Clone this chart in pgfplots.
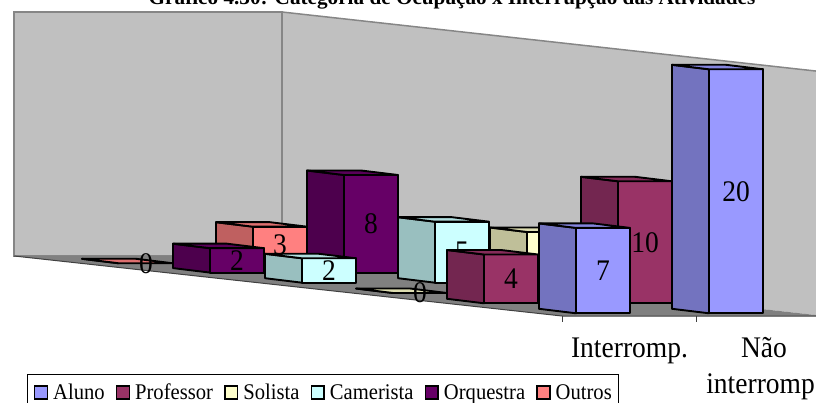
\documentclass[border=0pt]{standalone}
\usepackage{fontspec}
\setmainfont{Liberation Serif}
\newfontfamily\tallserif[FakeStretch=0.92]{Liberation Serif}
\usepackage{pgfplots}
\pgfplotsset{compat=1.18}
\definecolor{wall}{HTML}{C0C0C0}
\definecolor{edge}{HTML}{868686}
\definecolor{floorc}{HTML}{808080}
\definecolor{aF}{HTML}{9999FF}\definecolor{aS}{HTML}{7373BF}\definecolor{aT}{HTML}{8585DE}
\definecolor{pF}{HTML}{993366}\definecolor{pS}{HTML}{732650}\definecolor{pT}{HTML}{852C59}
\definecolor{sF}{HTML}{FFFFCC}\definecolor{sS}{HTML}{BFBF99}\definecolor{sT}{HTML}{DEDEB1}
\definecolor{cF}{HTML}{CCFFFF}\definecolor{cS}{HTML}{99BFBF}\definecolor{cT}{HTML}{B1DEDE}
\definecolor{oF}{HTML}{660066}\definecolor{oS}{HTML}{4D004D}\definecolor{oT}{HTML}{590059}
\definecolor{uF}{HTML}{FF8080}\definecolor{uS}{HTML}{BF6060}\definecolor{uT}{HTML}{DE6F6F}
\newcommand\lab{\tallserif\fontsize{29.9}{32}\selectfont}
\newcommand\leg{\tallserif\fontsize{22.4}{24}\selectfont}
\tikzset{
  barl/.style={draw=black,line width=1.9pt,line join=round},
  lbl/.style={inner sep=0pt,font=\lab,text=black},
}
% #1 left x, #2 baseline y of the front face, #3 value, #4 colour prefix
\newcommand\barthree[4]{%
 \pgfmathsetmacro\xa{#1}\pgfmathsetmacro\xb{#1+37}\pgfmathsetmacro\xc{#1+91}\pgfmathsetmacro\xd{#1+54}%
 \pgfmathsetmacro\yt{#2-12.2*#3}\pgfmathsetmacro\ytb{\yt-4.5}\pgfmathsetmacro\ybb{#2-4.5}%
 \pgfmathsetmacro\lx{#1+64}\pgfmathsetmacro\ly{#2-6.1*#3}%
 \edef\tmp{%
 \noexpand\addplot[forget plot,barl,fill=#4S] coordinates {(\xa,\ytb)(\xb,\yt)(\xb,#2)(\xa,\ybb)} --cycle;
 \noexpand\addplot[forget plot,barl,fill=#4F] coordinates {(\xb,\yt)(\xc,\yt)(\xc,#2)(\xb,#2)} --cycle;
 \noexpand\addplot[forget plot,barl,fill=#4T] coordinates {(\xa,\ytb)(\xd,\ytb)(\xc,\yt)(\xb,\yt)} --cycle;
 \noexpand\node[lbl] at (axis cs:\lx,\ly) {#3};
 }\tmp}
\begin{document}
\begin{tikzpicture}
\path[use as bounding box] (0,0) rectangle (816pt,403pt);
\clip (0,0) rectangle (816pt,403pt);
\begin{axis}[
  at={(0,0)},anchor=south west,
  scale only axis,width=816pt,height=403pt,
  xmin=0,xmax=816,ymin=0,ymax=403,y dir=reverse,
  hide axis,clip=false,
  legend style={at={(axis description cs:0.0331,0.0732)},anchor=north west,draw=black,line width=0.8pt,
    inner xsep=6.5pt,inner ysep=7.8pt,font=\leg,
    nodes={inner xsep=0pt,inner ysep=2pt},
    /tikz/every even column/.append style={column sep=11.2pt},
    /tikz/every odd column/.append style={column sep=5pt}},
  legend columns=-1,
  legend image code/.code={\draw[#1,draw=black,line width=1.5pt] (0.75pt,-6.5pt) rectangle (13.5pt,6.5pt);},
]
% walls and floor
\addplot[fill=wall,draw=edge,line width=1.5pt,forget plot] coordinates {(14,12)(282,12)(282,256)(14,256)} --cycle;
\addplot[fill=wall,draw=none,forget plot] coordinates {(282,12)(820,71.5)(820,315.5)(282,256)} --cycle;
\addplot[draw=edge,line width=1.5pt,forget plot] coordinates {(282,256)(282,12)(820,71.5)};
\addplot[fill=floorc,draw=none,forget plot] coordinates {(14,256)(282,256)(820,315.5)(820,316)(562,316)} --cycle;
\addplot[draw=black!75,line width=1pt,forget plot] coordinates {(14,256)(562,316)(820,316)};
\addplot[draw=black!75,line width=1pt,forget plot] coordinates {(562,316)(562,322)};
\addplot[draw=black!75,line width=1pt,forget plot] coordinates {(696,316)(696,322)};
% back row: Nao interromp.
\barthree{216}{263.3}{3}{u}
\barthree{307}{272.6}{8}{o}
\barthree{398}{282.7}{5}{c}
\barthree{490}{293}{5}{s}
\barthree{581}{303.3}{10}{p}
\barthree{672}{313.3}{20}{a}
% front row: Interromp.
\barthree{82}{263.3}{0}{u}
\barthree{173}{272.6}{2}{o}
\barthree{265}{282.7}{2}{c}
\barthree{356}{293}{0}{s}
\barthree{447}{303.3}{4}{p}
\barthree{539}{313.3}{7}{a}
% category names, title
\node[lbl,anchor=base] at (axis cs:629.5,357.5) {Interromp.};
\node[lbl,anchor=base] at (axis cs:764,357.5) {Não};
\node[lbl,anchor=base] at (axis cs:764,393) {interromp.};
\node[inner sep=0pt,anchor=base,font=\fontsize{21.2}{23}\selectfont\bfseries] at (axis cs:452,4.5) {Gráfico 4.30: Categoria de Ocupação x Interrupção das Atividades};
% legend
\addlegendimage{fill=aF}\addlegendentry{Aluno}
\addlegendimage{fill=pF}\addlegendentry{Professor}
\addlegendimage{fill=sF}\addlegendentry{Solista}
\addlegendimage{fill=cF}\addlegendentry{Camerista}
\addlegendimage{fill=oF}\addlegendentry{Orquestra}
\addlegendimage{fill=uF}\addlegendentry{Outros}
\end{axis}
\end{tikzpicture}
\end{document}
